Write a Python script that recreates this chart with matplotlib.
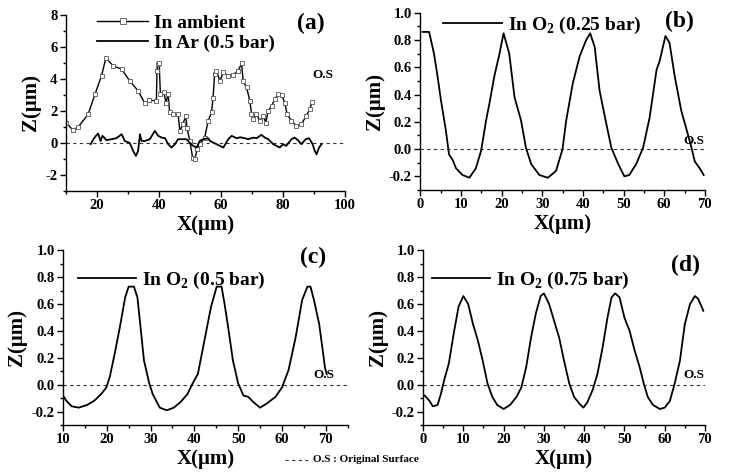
import numpy as np
from matplotlib import pyplot as plt

plt.rcParams['font.family'] = ['Liberation Serif', 'DejaVu Serif']
plt.rcParams['font.weight'] = 'bold'
plt.rcParams['mathtext.fontset'] = 'custom'
plt.rcParams['mathtext.rm'] = 'Liberation Serif:bold'
plt.rcParams['mathtext.bf'] = 'Liberation Serif:bold'

# (a) ambient
xa_amb = [10, 12.2, 14, 17.2, 19.4, 21.5, 22.9, 25.3, 28, 30.6, 33.3, 35.5, 36.9, 39.2, 39.4, 39.6, 40.1,
          40.5, 41.6, 42.3, 43, 43.5, 44.5, 46.2, 46.8, 47.8, 48.7, 49.1, 50, 50.9, 51.6, 52.4, 53.2, 54.8,
          55.9, 57, 57.5, 58, 58.6, 59.7, 60.8, 62.4, 64, 65.6, 66.7, 67.2, 68.3, 69.4, 69.9, 70.5, 71.5,
          72.6, 73.7, 74.5, 75.3, 76.4, 77.4, 78.5, 79.6, 80.6, 81.4, 82.8, 84.4, 86, 87.6, 88.7, 89.5]
za_amb = [1.27, 0.81, 1.0, 1.79, 3.04, 4.19, 5.29, 4.81, 4.6, 3.87, 3.25, 2.46, 2.67, 2.62, 4.5, 4.92, 5.0,
          3.04, 3.15, 2.52, 3.04, 1.9, 1.8, 1.79, 0.75, 1.2, 1.69, 0.9, 0.12, -0.92, -1.02, -0.4, -0.07, 0.33,
          1.37, 1.9, 2.83, 4.29, 4.5, 3.87, 4.4, 4.19, 4.25, 4.5, 4.96, 3.87, 3.46, 2.62, 1.79, 1.48, 1.79,
          1.37, 1.69, 1.27, 2.0, 2.31, 2.73, 3.04, 3.0, 2.52, 1.79, 1.37, 1.06, 1.17, 1.69, 2.1, 2.58]
# (a) Ar
xa_ar = [18, 18.9, 19.7, 20.4, 21.2, 21.8, 23.1, 24.7, 26.3, 28, 29, 30.6, 31.7, 32.6, 33.3, 33.9, 34.4,
         35.5, 37.1, 38.7, 39.8, 40.9, 42, 43, 44.1, 45.2, 46.2, 47.3, 48.9, 50, 51.1, 52.2, 53.2, 54.3,
         55.9, 56.5, 58.6, 60.8, 62.4, 63.5, 65.1, 66.2, 67.8, 68.8, 70.5, 71.5, 73.1, 74.2, 75.3, 76.9,
         79, 80.1, 81.1, 82.8, 83.8, 84.9, 86, 87.4, 88.5, 89.6, 90.3, 90.9, 91.7, 92.5]
za_ar = [-0.08, 0.23, 0.44, 0.58, 0.12, 0.44, 0.17, 0.23, 0.29, 0.54, 0.12, 0.0, -0.5, -0.81, -0.5, 0.54, 0.12,
         0.12, 0.23, 0.75, 0.44, 0.33, 0.29, -0.08, -0.29, -0.08, 0.23, 0.23, 0.23, 0.0, -0.19, -0.29, 0.12, 0.23,
         0.29, 0.12, -0.08, -0.29, 0.23, 0.44, 0.29, 0.35, 0.29, 0.23, 0.33, 0.29, 0.5, 0.33, 0.23, -0.08,
         -0.29, -0.08, -0.19, 0.23, 0.33, 0.17, -0.08, 0.23, 0.29, -0.08, -0.5, -0.71, -0.29, -0.08]

# (b) O2 0.25 bar
xb = [0.6, 2.2, 3.4, 4.3, 5.1, 6.3, 7.1, 8, 8.8, 10.4, 12.1, 13.7, 15, 16.2, 17, 18.2, 19.5, 20.5, 21.9,
      23.2, 24.8, 26, 27.3, 29.3, 31.4, 33.4, 35, 35.9, 37.5, 39.2, 40.8, 41.8, 42.9, 44.1, 45.8, 47, 48.7,
      50.2, 51.4, 53.1, 54.8, 56.4, 58.1, 58.9, 60.3, 61.3, 62.6, 64.2, 65.8, 66.7, 67.5, 68.7, 69.7]
zb = [0.86, 0.86, 0.70, 0.53, 0.36, 0.14, -0.04, -0.08, -0.14, -0.19, -0.21, -0.14, -0.01, 0.21, 0.33, 0.53,
      0.70, 0.85, 0.70, 0.38, 0.21, 0.01, -0.11, -0.19, -0.21, -0.16, 0.0, 0.21, 0.48, 0.68, 0.80, 0.85, 0.75,
      0.43, 0.18, 0.01, -0.11, -0.20, -0.19, -0.11, 0.01, 0.23, 0.58, 0.65, 0.83, 0.78, 0.53, 0.28, 0.11, 0.01,
      -0.09, -0.14, -0.19]

# (c) O2 0.5 bar
xc = [10, 10.8, 12, 13.6, 15.5, 17.1, 18.7, 19.9, 20.7, 21.8, 23, 24.2, 25, 26.2, 27, 27.8, 28.5, 29.7, 30.5,
      32.1, 33.7, 35.3, 36.8, 38.4, 39.6, 40.8, 42.3, 43.8, 45.1, 46.2, 46.9, 47.7, 48.8, 50, 51.2, 52.3,
      53.5, 55, 56.5, 58.5, 60, 61.5, 63.1, 64.6, 65.8, 66.5, 67.3, 68.5, 69.4, 69.8, 70.2]
zc = [-0.08, -0.12, -0.16, -0.17, -0.15, -0.12, -0.07, -0.02, 0.06, 0.23, 0.43, 0.65, 0.73, 0.73, 0.65, 0.40,
      0.18, 0.01, -0.07, -0.17, -0.19, -0.17, -0.13, -0.07, 0.01, 0.08, 0.33, 0.58, 0.73, 0.73, 0.6, 0.43,
      0.18, 0.01, -0.08, -0.09, -0.13, -0.17, -0.14, -0.09, -0.02, 0.11, 0.35, 0.63, 0.73, 0.73, 0.63, 0.45,
      0.23, 0.13, 0.08]

# (d) O2 0.75 bar
xd = [0.4, 1.6, 2.4, 3.6, 4.4, 5.2, 6.4, 7.6, 8.8, 10, 11.2, 12.4, 13.6, 14.8, 16, 17.2, 18.4, 20, 21.6, 23.2,
      24.4, 25.6, 26.8, 28, 29.2, 30, 31.3, 32.5, 33.8, 35, 36.3, 37.5, 38.8, 39.8, 40.8, 42.1, 43.3, 44.6,
      45.8, 46.8, 47.7, 48.8, 50, 51.3, 52.5, 53.8, 54.8, 55.8, 57.1, 58.8, 60, 61.3, 62.5, 63.8, 65, 66.3,
      67.5, 68.3, 69.2, 69.6]
zd = [-0.08, -0.12, -0.16, -0.15, -0.07, 0.03, 0.16, 0.38, 0.58, 0.66, 0.6, 0.45, 0.33, 0.18, 0.01, -0.09,
      -0.15, -0.18, -0.15, -0.09, -0.02, 0.13, 0.35, 0.53, 0.66, 0.68, 0.6, 0.48, 0.35, 0.18, 0.01, -0.09,
      -0.14, -0.17, -0.13, -0.04, 0.08, 0.28, 0.5, 0.65, 0.68, 0.65, 0.5, 0.4, 0.26, 0.13, 0.01, -0.09, -0.15,
      -0.18, -0.17, -0.12, 0.01, 0.18, 0.45, 0.6, 0.66, 0.64, 0.58, 0.55]

fig = plt.figure(figsize=(7.32, 4.75), dpi=100)


def setup(ax, xlim, ylim, xmaj, xmin, ymaj, ymin, fmt, xstart):
    ax.set_xlim(*xlim)
    ax.set_ylim(*ylim)
    ax.spines['top'].set_visible(False)
    ax.spines['right'].set_visible(False)
    xt = np.arange(xstart, xlim[1] + 0.01, xmaj)
    ax.set_xticks(xt)
    ax.set_xticklabels(['%d' % v for v in xt])
    ax.set_xticks(np.arange(xlim[0], xlim[1] + 0.01, xmin), minor=True)
    yt = np.arange(ymaj * np.ceil(ylim[0] / ymaj - 1e-9), ylim[1] + 1e-6, ymaj)
    ax.set_yticks(yt)
    ax.set_yticklabels([fmt % v for v in yt])
    ax.set_yticks(np.arange(ylim[0], ylim[1] + 1e-6, ymin), minor=True)
    ax.tick_params(which='both', direction='out', labelsize=10.5, width=1.0, pad=2)
    ax.tick_params(which='major', length=4)
    ax.tick_params(which='minor', length=2)
    for s in ['left', 'bottom']:
        ax.spines[s].set_linewidth(1.0)
    for t in ax.get_xticklabels() + ax.get_yticklabels():
        t.set_fontweight('bold')
    ax.axhline(0, color='#333333', lw=0.8, ls=(0, (3, 3)), zorder=0)
    ax.set_xlabel('X(μm)', fontsize=15, fontweight='bold', labelpad=2)
    ax.set_ylabel('Z(μm)', fontsize=15, fontweight='bold', labelpad=3)


# (a)
ax1 = fig.add_axes([0.090, 0.598, 0.381, 0.371])
ax1.plot(xa_amb, za_amb, color='black', lw=1.0, marker='s', ms=3.5, mfc='white', mec='#555555', mew=0.6,
         label='In ambient')
ax1.plot(xa_ar, za_ar, color='black', lw=1.3, label='In Ar (0.5 bar)')
setup(ax1, (10, 100), (-3, 8), 20, 10, 2, 1, '%d', 20)
ax1.legend(loc='upper left', bbox_to_anchor=(0.05, 1.10), frameon=False, fontsize=14, handlelength=2.6,
           handletextpad=0.3, labelspacing=0.1, markerscale=1.3)
ax1.text(0.88, 0.92, '(a)', transform=ax1.transAxes, fontsize=17, fontweight='bold', ha='center')
ax1.text(0.92, 0.64, 'O.S', transform=ax1.transAxes, fontsize=9.5, fontweight='bold', ha='center')

# (b)
ax2 = fig.add_axes([0.574, 0.600, 0.389, 0.373])
ax2.plot(xb, zb, color='black', lw=1.3, label=r'In O$_{\mathbf{2}}$ (0.25 bar)')
setup(ax2, (0, 70), (-0.3, 1.0), 10, 5, 0.2, 0.1, '%.1f', 0)
ax2.legend(loc='upper left', bbox_to_anchor=(0.02, 1.09), frameon=False, fontsize=14, handlelength=3.0,
           handletextpad=0.3)
ax2.text(0.91, 0.92, '(b)', transform=ax2.transAxes, fontsize=17, fontweight='bold', ha='center')
ax2.text(0.96, 0.26, 'O.S', transform=ax2.transAxes, fontsize=9.5, fontweight='bold', ha='center')

# (c)
ax3 = fig.add_axes([0.086, 0.105, 0.389, 0.368])
ax3.plot(xc, zc, color='black', lw=1.3, label=r'In O$_{\mathbf{2}}$ (0.5 bar)')
setup(ax3, (10, 75), (-0.3, 1.0), 10, 5, 0.2, 0.1, '%.1f', 10)
ax3.legend(loc='upper left', bbox_to_anchor=(-0.01, 0.99), frameon=False, fontsize=14, handlelength=3.0,
           handletextpad=0.3)
ax3.text(0.88, 0.93, '(c)', transform=ax3.transAxes, fontsize=17, fontweight='bold', ha='center')
ax3.text(0.915, 0.27, 'O.S', transform=ax3.transAxes, fontsize=9.5, fontweight='bold', ha='center')

# (d)
ax4 = fig.add_axes([0.578, 0.105, 0.385, 0.368])
ax4.plot(xd, zd, color='black', lw=1.3, label=r'In O$_{\mathbf{2}}$ (0.75 bar)')
setup(ax4, (0, 70), (-0.3, 1.0), 10, 5, 0.2, 0.1, '%.1f', 0)
ax4.legend(loc='upper left', bbox_to_anchor=(-0.03, 0.99), frameon=False, fontsize=14, handlelength=3.0,
           handletextpad=0.3)
ax4.text(0.93, 0.88, '(d)', transform=ax4.transAxes, fontsize=17, fontweight='bold', ha='center')
ax4.text(0.96, 0.27, 'O.S', transform=ax4.transAxes, fontsize=9.5, fontweight='bold', ha='center')

# note at the bottom
fig.lines.append(plt.Line2D([285 / 732, 308 / 732], [1 - 460 / 475] * 2, transform=fig.transFigure,
                            color='#333333', lw=0.8, ls=(0, (3, 3))))
fig.text(313 / 732, 1 - 460 / 475, 'O.S : Original Surface', fontsize=8, fontweight='bold', va='center')

plt.savefig('out.png', dpi=100)
